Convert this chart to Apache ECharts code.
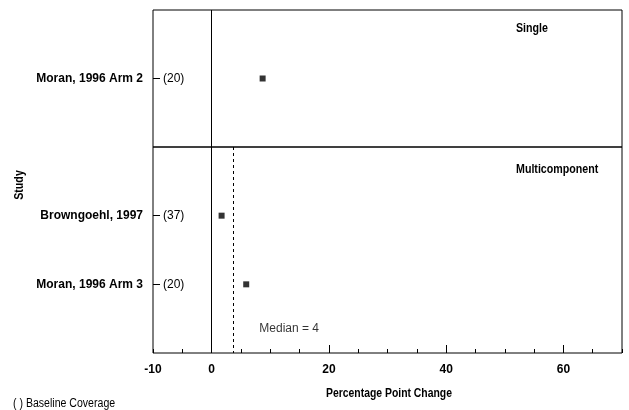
<!DOCTYPE html>
<html>
<head>
<meta charset="utf-8">
<script src="https://cdn.jsdelivr.net/npm/echarts@6/dist/echarts.min.js"></script>
<style>html,body{margin:0;padding:0;background:#fff}#c{width:629px;height:410px}</style>
</head>
<body>
<div id="c"></div>
<script>
// ---- data ----
const singleStudies = ["Moran, 1996 Arm 2"];
const singleBaseline = [20];
const singleChange = [8.7];

const multiStudies = ["Browngoehl, 1997", "Moran, 1996 Arm 3"];
const multiBaseline = [37, 20];
const multiChange = [1.7, 5.9];

const multiMedian = 3.7;
const medianLabel = "Median = 4";

const xMin = -10, xMax = 70;
const xLabelValues = [-10, 0, 20, 40, 60];
const xMajorTicks = [0, 20, 40, 60];

const panelTitles = ["Single", "Multicomponent"];
const xTitle = "Percentage Point Change";
const yTitle = "Study";
const footnote = "( ) Baseline Coverage";

// ---- chart ----
const FONT = '"Liberation Sans", Arial, sans-serif';
const chart = echarts.init(document.getElementById('c'), null, {renderer: 'canvas'});

const pos = n => Array.from({length: n}, (_, i) => i + 1);

const option = {
  backgroundColor: '#fff',
  animation: false,
  grid: [
    {left: 153, top: 10, width: 469, height: 137, show: true, borderColor: '#000', borderWidth: 1, backgroundColor: 'transparent'},
    {left: 153, top: 147, width: 469, height: 206, show: true, borderColor: '#000', borderWidth: 1, backgroundColor: 'transparent'},
    {left: 153, top: 147, width: 469, height: 206, show: false}
  ],
  xAxis: [
    {gridIndex: 0, type: 'value', min: xMin, max: xMax, show: false},
    {gridIndex: 1, type: 'value', min: xMin, max: xMax, position: 'bottom',
      axisLine: {show: false, onZero: false}, splitLine: {show: false},
      axisTick: {show: true, inside: true, length: 8, lineStyle: {color: '#000'}, customValues: xMajorTicks},
      axisLabel: {show: true, customValues: xLabelValues, color: '#000', fontFamily: FONT, fontWeight: 'bold', fontSize: 12, margin: 11}},
    {gridIndex: 2, type: 'value', min: xMin, max: xMax, interval: 5, position: 'bottom',
      axisLine: {show: false, onZero: false}, splitLine: {show: false},
      axisTick: {show: true, inside: true, length: 4, lineStyle: {color: '#000'}},
      axisLabel: {show: false}}
  ],
  yAxis: [],
  series: []
};

function addYAxes(gridIndex, names, baselines) {
  const n = names.length;
  const vals = pos(n);
  option.yAxis.push({
    gridIndex, type: 'value', min: 0, max: n + 1, inverse: true, position: 'left',
    axisLine: {show: false, onZero: false}, splitLine: {show: false},
    axisTick: {show: true, inside: true, length: 7, customValues: vals, lineStyle: {color: '#000'}},
    axisLabel: {show: true, customValues: vals, formatter: v => names[v - 1] || '',
      color: '#000', fontFamily: FONT, fontWeight: 'bold', fontSize: 12, margin: 10}
  });
  option.yAxis.push({
    gridIndex, type: 'value', min: 0, max: n + 1, inverse: true, position: 'left',
    axisLine: {show: false, onZero: false}, splitLine: {show: false}, axisTick: {show: false},
    axisLabel: {show: true, inside: true, customValues: vals, formatter: v => '(' + baselines[v - 1] + ')',
      color: '#000', fontFamily: FONT, fontSize: 12, margin: 10}
  });
}
addYAxes(0, singleStudies, singleBaseline);   // yAxis 0,1
addYAxes(1, multiStudies, multiBaseline);     // yAxis 2,3
option.yAxis.push({gridIndex: 2, type: 'value', min: 0, max: 1, show: false}); // yAxis 4

option.series = [
  {
    type: 'scatter', xAxisIndex: 0, yAxisIndex: 0, symbol: 'rect', symbolSize: 6,
    itemStyle: {color: '#000'},
    data: singleChange.map((v, i) => [v, i + 1]),
    markLine: {silent: true, symbol: 'none', label: {show: false},
      lineStyle: {color: '#000', type: 'solid', width: 1}, data: [{xAxis: 0}]}
  },
  {
    type: 'scatter', xAxisIndex: 1, yAxisIndex: 2, symbol: 'rect', symbolSize: 6,
    itemStyle: {color: '#000'},
    data: multiChange.map((v, i) => [v, i + 1]),
    markLine: {silent: true, symbol: 'none', label: {show: false},
      data: [
        {xAxis: 0, lineStyle: {color: '#000', type: 'solid', width: 1}},
        {xAxis: multiMedian, lineStyle: {color: '#000', type: [3, 3], width: 1}}
      ]}
  },
  {
    type: 'scatter', xAxisIndex: 1, yAxisIndex: 2, symbolSize: 0, silent: true,
    data: [[multiMedian, multiStudies.length + 0.65]],
    label: {show: true, position: 'right', distance: 26, formatter: medianLabel,
      color: '#000', fontFamily: FONT, fontSize: 12}
  }
];

const SX = 0.82;
option.graphic = [
  {type: 'text', x: 516, y: 28, scaleX: SX, style: {text: panelTitles[0], fill: '#000', font: 'bold 13px ' + FONT, verticalAlign: 'middle'}},
  {type: 'text', x: 516, y: 169, scaleX: SX, style: {text: panelTitles[1], fill: '#000', font: 'bold 13px ' + FONT, verticalAlign: 'middle'}},
  {type: 'text', x: 389, y: 393, scaleX: 0.8, style: {text: xTitle, fill: '#000', font: 'bold 13px ' + FONT, align: 'center', verticalAlign: 'middle'}},
  {type: 'text', x: 19, y: 185, rotation: Math.PI / 2, scaleX: SX, style: {text: yTitle, fill: '#000', font: 'bold 13px ' + FONT, align: 'center', verticalAlign: 'middle'}},
  {type: 'text', x: 13, y: 404, scaleX: 0.88, style: {text: footnote, fill: '#000', font: '12px ' + FONT, verticalAlign: 'middle'}}
];

chart.setOption(option);
</script>
</body>
</html>
